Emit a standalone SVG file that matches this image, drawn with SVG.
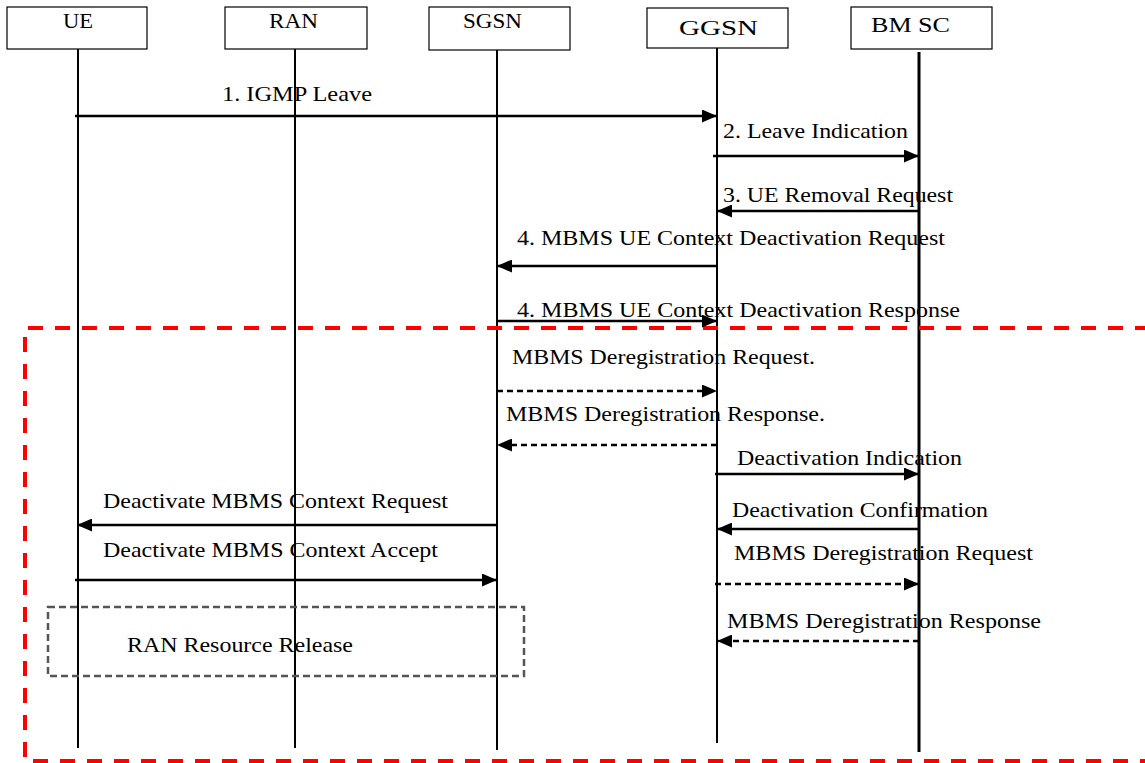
<svg xmlns="http://www.w3.org/2000/svg" width="1145" height="763" viewBox="0 0 1145 763">
<style>
.box{fill:#fff;stroke:#000;stroke-width:1.2}
.life{stroke:#000;stroke-width:2;fill:none}
.t{font-family:"Liberation Serif","Times New Roman",serif;font-size:21px;fill:#000}
.msg{stroke:#000;stroke-width:2.5;fill:none;marker-end:url(#ah)}
.dash{stroke-dasharray:6 4}
</style>
<defs>
<marker id="ah" markerUnits="userSpaceOnUse" markerWidth="16" markerHeight="13" refX="15" refY="6.5" orient="auto">
<path d="M0,0 L15,6.5 L0,13 Z" fill="#000"/>
</marker>
</defs>
<g id="UE"><rect class="box" x="7" y="7" width="140" height="42"/><text class="t" x="63" y="28" textLength="30" lengthAdjust="spacingAndGlyphs">UE</text><line class="life" x1="78" y1="49" x2="78" y2="748"/></g>
<g id="RAN"><rect class="box" x="225" y="7" width="142" height="42"/><text class="t" x="269" y="28" textLength="49" lengthAdjust="spacingAndGlyphs">RAN</text><line class="life" x1="295" y1="49" x2="295" y2="748"/></g>
<g id="SGSN"><rect class="box" x="429" y="7" width="141" height="43"/><text class="t" x="463" y="28" textLength="59" lengthAdjust="spacingAndGlyphs">SGSN</text><line class="life" x1="497" y1="50" x2="497" y2="750"/></g>
<g id="GGSN"><rect class="box" x="647" y="8" width="141" height="40"/><text class="t" x="679" y="35" textLength="79" lengthAdjust="spacingAndGlyphs">GGSN</text><line class="life" x1="717" y1="48" x2="717" y2="743"/></g>
<g id="BMSC"><rect class="box" x="851" y="7" width="141" height="42"/><text class="t" x="871" y="32" textLength="79" lengthAdjust="spacingAndGlyphs">BM SC</text><line class="life" x1="919" y1="52" x2="919" y2="752" style="stroke-width:3"/></g>
<g id="procedure-frame">
<path d="M1150,328 H25 V761 H1150" fill="none" stroke="#ff0000" stroke-width="4" stroke-dasharray="15 12"/>
</g>
<g id="RANResourceRelease">
<rect x="48" y="607" width="476" height="69" fill="none" stroke="#555" stroke-width="2.5" stroke-dasharray="7 4"/>
<text class="t" x="127" y="652" textLength="226" lengthAdjust="spacingAndGlyphs">RAN Resource Release</text>
</g>
<g id="connectors">
<line class="msg" x1="75" y1="116" x2="717" y2="116"/>
<line class="msg" x1="713" y1="156" x2="919" y2="156"/>
<line class="msg" x1="920" y1="211" x2="717" y2="211"/>
<line class="msg" x1="717" y1="266" x2="497" y2="266"/>
<line class="msg" x1="497" y1="321" x2="717" y2="321"/>
<line class="msg dash" x1="497" y1="391" x2="717" y2="391"/>
<line class="msg dash" x1="717" y1="445" x2="497" y2="445"/>
<line class="msg" x1="715" y1="474" x2="919" y2="474"/>
<line class="msg" x1="919" y1="529" x2="717" y2="529"/>
<line class="msg" x1="497" y1="525" x2="77" y2="525"/>
<line class="msg" x1="75" y1="580" x2="497" y2="580"/>
<line class="msg dash" x1="715" y1="584" x2="919" y2="584"/>
<line class="msg dash" x1="919" y1="641" x2="717" y2="641"/>
</g>
<g id="labels">
<text class="t" x="222" y="101" textLength="150" lengthAdjust="spacingAndGlyphs">1. IGMP Leave</text>
<text class="t" x="723" y="138" textLength="185" lengthAdjust="spacingAndGlyphs">2. Leave Indication</text>
<text class="t" x="723" y="202" textLength="230" lengthAdjust="spacingAndGlyphs">3. UE Removal Request</text>
<text class="t" x="517" y="245" textLength="428" lengthAdjust="spacingAndGlyphs">4. MBMS UE Context Deactivation Request</text>
<text class="t" x="517" y="317" textLength="443" lengthAdjust="spacingAndGlyphs">4. MBMS UE Context Deactivation Response</text>
<text class="t" x="512" y="364" textLength="303" lengthAdjust="spacingAndGlyphs">MBMS Deregistration Request.</text>
<text class="t" x="506" y="421" textLength="319" lengthAdjust="spacingAndGlyphs">MBMS Deregistration Response.</text>
<text class="t" x="737" y="465" textLength="225" lengthAdjust="spacingAndGlyphs">Deactivation Indication</text>
<text class="t" x="732" y="517" textLength="256" lengthAdjust="spacingAndGlyphs">Deactivation Confirmation</text>
<text class="t" x="103" y="508" textLength="345" lengthAdjust="spacingAndGlyphs">Deactivate MBMS Context Request</text>
<text class="t" x="103" y="557" textLength="335" lengthAdjust="spacingAndGlyphs">Deactivate MBMS Context Accept</text>
<text class="t" x="734" y="560" textLength="299" lengthAdjust="spacingAndGlyphs">MBMS Deregistration Request</text>
<text class="t" x="727" y="628" textLength="314" lengthAdjust="spacingAndGlyphs">MBMS Deregistration Response</text>
</g>
</svg>
